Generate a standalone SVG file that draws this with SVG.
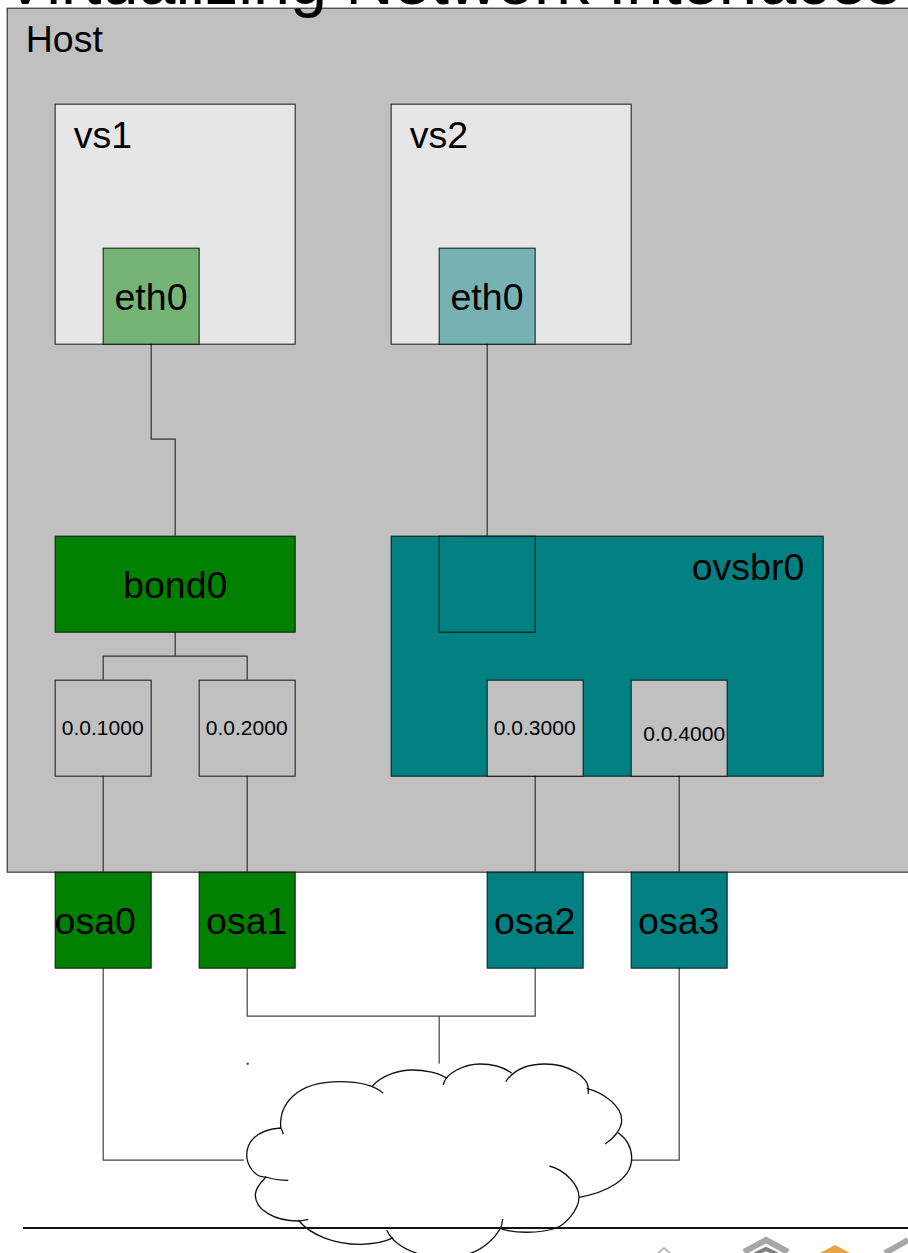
<svg xmlns="http://www.w3.org/2000/svg" width="908" height="1253" viewBox="0 0 908 1253">
<style>
text{font-family:"Liberation Sans",Arial,sans-serif;fill:#000}
.b{stroke:#000;stroke-width:1.2;stroke-opacity:.75}
.l{fill:none;stroke:#000;stroke-width:1.200;stroke-opacity:.75}
.big{font-size:37.500px}
.mid{font-size:37.500px;text-anchor:middle}
.sm{font-size:21px;text-anchor:middle}
.c{fill:none;stroke:#111;stroke-width:1.300}
</style>
<rect width="908" height="1253" fill="#fff"/>
<g id="diagram" transform="translate(-.3 -.3)">
<g id="host"><rect class="b" x="7.500" y="8.500" width="920" height="864" fill="#c0c0c0"/><text class="big" x="26" y="52">Host</text></g>
<g id="vs1"><rect class="b" x="55.500" y="104.500" width="240" height="240" fill="#e6e6e6"/><text class="big" x="74" y="148">vs1</text></g>
<g id="vs2"><rect class="b" x="391.500" y="104.500" width="240" height="240" fill="#e6e6e6"/><text class="big" x="410" y="148">vs2</text></g>
<g id="eth0a"><rect class="b" x="103.500" y="248.500" width="96" height="96" fill="#76b476"/><text class="mid" x="151.300" y="310">eth0</text></g>
<g id="eth0b"><rect class="b" x="439.500" y="248.500" width="96" height="96" fill="#76b2b4"/><text class="mid" x="487.300" y="310">eth0</text></g>
<g id="bond0"><rect class="b" x="55.500" y="536.500" width="240" height="96" fill="#008000"/><text class="mid" x="175.500" y="598">bond0</text></g>
<g id="ovsbr0"><rect class="b" x="391.500" y="536.500" width="432" height="240" fill="#008080"/><text class="big" x="692" y="580">ovsbr0</text></g>
<g id="port"><rect class="b" x="439.500" y="536.500" width="96" height="96" fill="#008080"/></g>
<g id="v1000"><rect class="b" x="55.500" y="680.500" width="96" height="96" fill="#c0c0c0"/><text class="sm" x="103" y="735">0.0.1000</text></g>
<g id="v2000"><rect class="b" x="199.500" y="680.500" width="96" height="96" fill="#c0c0c0"/><text class="sm" x="247" y="735">0.0.2000</text></g>
<g id="v3000"><rect class="b" x="487.500" y="680.500" width="96" height="96" fill="#c0c0c0"/><text class="sm" x="535" y="735">0.0.3000</text></g>
<g id="v4000"><rect class="b" x="631.500" y="680.500" width="96" height="96" fill="#c0c0c0"/><text class="sm" x="684.500" y="741">0.0.4000</text></g>
<g id="osa0"><rect class="b" x="55.500" y="872.500" width="96" height="96" fill="#008000"/><text class="mid" x="95.500" y="934">osa0</text></g>
<g id="osa1"><rect class="b" x="199.500" y="872.500" width="96" height="96" fill="#008000"/><text class="mid" x="247" y="934">osa1</text></g>
<g id="osa2"><rect class="b" x="487.500" y="872.500" width="96" height="96" fill="#008080"/><text class="mid" x="535" y="934">osa2</text></g>
<g id="osa3"><rect class="b" x="631.500" y="872.500" width="96" height="96" fill="#008080"/><text class="mid" x="679" y="934">osa3</text></g>
<g id="connectors">
<path class="l" d="M151.500 344V439.500H175.500V536"/>
<path class="l" d="M487.500 344V536"/>
<path class="l" d="M175.500 632V656.500M103.500 680V656.500H247.500V680"/>
<path class="l" d="M103.500 776V872M247.500 776V872M535.500 776V872M679.500 776V872"/>
<path class="l" d="M103.500 968V1160.500H247"/>
<path class="l" d="M247.500 968V1016.500H535.500V968M439.500 1016V1064"/>
<path class="l" d="M679.500 968V1160.500H632"/>
<rect x="247" y="1063" width="2" height="2" fill="#333"/>
</g>
</g>
<text id="title" x="3" y="3.500" style="font-size:66.500px">Virtualizing Network Interfaces</text>
<g id="logo">
<path d="M403.500 1229V1253" stroke="#e4e4e4" stroke-width="1"/>
<path d="M658 1253L664 1248L670 1253" fill="none" stroke="#aaa" stroke-width="1.500"/>
<path d="M744 1252L766 1240L788 1252" fill="none" stroke="#a6a6a6" stroke-width="6"/>
<path d="M755 1254L766 1249L777 1254" fill="none" stroke="#808080" stroke-width="4"/>
<path d="M820 1253L835 1245L850 1253Z" fill="#e8a040"/>
<path d="M885 1253L908 1240" fill="none" stroke="#a6a6a6" stroke-width="6"/>
</g>
<g id="cloud">
<path fill="#fff" d="M280 1128C285 1095 330 1075 372 1087C395 1070 425 1068 445 1076C465 1062 495 1062 510 1073C535 1060 580 1075 588 1089C615 1095 625 1115 622 1133C635 1145 634 1180 580 1197C575 1220 540 1232 500 1230C490 1250 470 1256 420 1256C395 1250 390 1240 393 1238C360 1250 310 1245 298 1220C270 1218 250 1200 256 1180C235 1170 240 1135 280 1128Z"/>
<path class="c" d="M283.300 1134.300C282 1130 281 1128 280.700 1128C255 1130 246.700 1143 246.700 1155C246.700 1165 255 1178 266 1177C275 1180 282 1180.300 288.300 1180.300"/>
<path class="c" d="M280.700 1128C279 1105 295 1081.700 340 1081.700C360 1081.700 375 1086 383.300 1093.300"/>
<path class="c" d="M371.700 1086.700C382 1075 400 1070 411.700 1070C425 1070 440 1073 446.700 1078.300"/>
<path class="c" d="M443.300 1085C445 1073 465 1064 480 1064C495 1064 505 1068 511.700 1073.300"/>
<path class="c" d="M505.700 1081.700C515 1068 530 1064 545 1064C570 1064 588 1078 588.300 1088.300L588.300 1094"/>
<path class="c" d="M586.700 1088.300C605 1093 621.700 1107 621.700 1120C621.700 1130 612 1140 605 1144"/>
<path class="c" d="M618.300 1132.700C628 1140 631.700 1150 631.700 1158C631.700 1180 605 1193 578.700 1197.300"/>
<path class="c" d="M549.300 1166C565 1170 579 1185 579 1197C579 1210 565 1225 555 1228.500C540 1233 515 1234 500 1228.300"/>
<path class="c" d="M502.700 1219C502 1235 480 1253 463 1255"/>
<path class="c" d="M386.700 1230C392 1242 405 1250 422 1255"/>
<path class="c" d="M298.300 1220C310 1235 335 1244.300 360 1244.300C375 1244.300 385 1242 393.300 1237.700"/>
<path class="c" d="M266 1177C258 1185 255.300 1190 255.300 1195C255.300 1210 275 1221 298 1221C300 1221 305 1220 308.300 1219.300"/>
</g>
<path id="rule" d="M23 1228H908" stroke="#111" stroke-width="2"/>
</svg>
